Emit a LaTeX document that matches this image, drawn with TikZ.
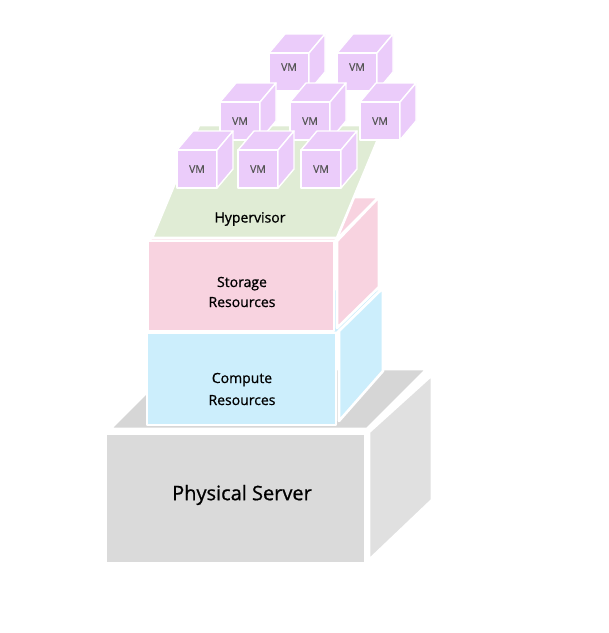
\documentclass[tikz,border=0pt]{standalone}
\usepackage{fontspec}
\setmainfont{Open Sans}
\newfontfamily\labelfont{Open Sans}[FakeBold=0.9]
\newfontfamily\vmfont{Open Sans}[FakeBold=0.5]
\definecolor{srvgray}{HTML}{DADADA}
\definecolor{srvtop}{HTML}{D6D6D6}
\definecolor{cmpblue}{HTML}{CCEEFC}
\definecolor{stpink}{HTML}{F8D3E0}
\definecolor{hvgreen}{HTML}{E0ECD5}
\definecolor{vmpurple}{HTML}{EBCCFA}
\definecolor{vmtext}{HTML}{555555}
\tikzset{
  face/.style={draw=white, line width=2.6pt, line join=round},
  thinface/.style={draw=white, line width=1.4pt, line join=round},
  layerlabel/.style={font=\labelfont\fontsize{14}{20}\selectfont, text=black, align=center},
  serverlabel/.style={font=\labelfont\fontsize{20}{22}\selectfont, text=black},
  vmlabel/.style={font=\vmfont\fontsize{10.5}{12}\selectfont, text=vmtext},
}
\newcommand{\vmcube}[2]{%
  \fill[vmpurple, thinface] (#1,#2) -- (#1+16,#2-19) -- (#1+56,#2-19) -- (#1+40,#2) -- cycle;
  \fill[vmpurple, thinface] (#1,#2) rectangle (#1+40,#2+38);
  \fill[vmpurple, thinface] (#1+40,#2) -- (#1+56,#2-19) -- (#1+56,#2+19) -- (#1+40,#2+38) -- cycle;
}
\begin{document}
\begin{tikzpicture}[x=1pt,y=-1pt]
\useasboundingbox (0,0) rectangle (609,633);
% Physical server
\fill[srvtop, face] (110,429) -- (367,429) -- (427,369) -- (170,369) -- cycle;
\fill[srvgray, face] (106,434) rectangle (365,563);
\fill[srvgray!85!white, face] (369,432) -- (432,375) -- (432,500) -- (369,560) -- cycle;
\node[serverlabel] (server) at (242,495) {Physical Server};
% Compute resources
\fill[cmpblue, face] (147,333) -- (337,333) -- (382,289) -- (192,289) -- cycle;
\fill[cmpblue, face] (147,333) rectangle (336,425);
\fill[cmpblue, face] (339,331) -- (383,288) -- (383,371) -- (339,421) -- cycle;
\node[layerlabel] (compute) at (242,389) {Compute\\[2pt]Resources};
% Storage resources
\fill[stpink, face] (148,241) -- (335,241) -- (379,197) -- (193,197) -- cycle;
\fill[stpink, face] (148,241) rectangle (334,331);
\fill[stpink, face] (337,241) -- (379,197) -- (379,287) -- (337,328) -- cycle;
\node[layerlabel] (storage) at (242,292) {Storage\\Resources};
% Hypervisor
\fill[hvgreen, face] (152,238) -- (337,238) -- (384,125) -- (199,125) -- cycle;
\node[layerlabel] (hypervisor) at (250,219) {Hypervisor};
% VMs: back row
\vmcube{269}{53}
\vmcube{337}{53}
\node[vmlabel] (vm1) at (289,67) {VM};
\node[vmlabel] (vm2) at (357,67) {VM};
% middle row
\vmcube{220}{102}
\vmcube{290}{102}
\vmcube{360}{102}
\node[vmlabel] (vm3) at (240,121) {VM};
\node[vmlabel] (vm4) at (310,121) {VM};
\node[vmlabel] (vm5) at (380,121) {VM};
% front row
\vmcube{177}{150}
\vmcube{238}{150}
\vmcube{301}{150}
\node[vmlabel] (vm6) at (197,169) {VM};
\node[vmlabel] (vm7) at (258,169) {VM};
\node[vmlabel] (vm8) at (321,169) {VM};
\end{tikzpicture}
\end{document}
